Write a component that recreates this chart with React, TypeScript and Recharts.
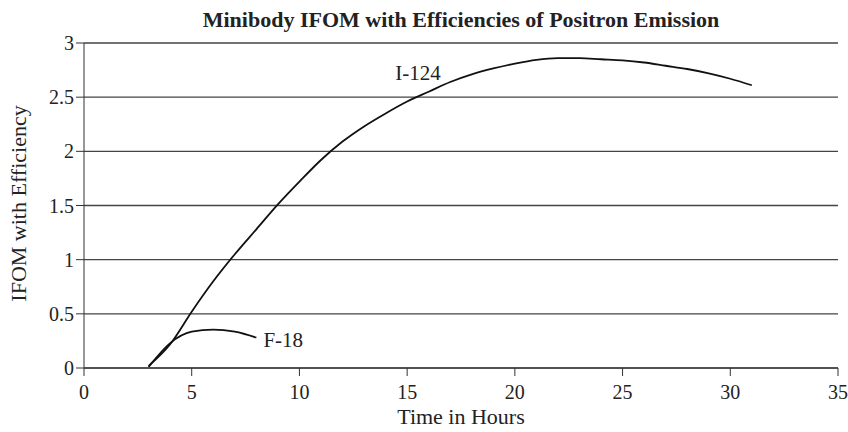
import { LineChart, Line, XAxis, YAxis, CartesianGrid, ReferenceDot, Label } from "recharts";

const hoursI124 = [3, 4, 5, 6, 7, 8, 9, 10, 11, 12, 13, 14, 15, 16, 17, 18, 19, 20, 21, 22, 23, 24, 25, 26, 27, 28, 29, 30, 31];
const valuesI124 = [0.02, 0.22, 0.52, 0.8, 1.05, 1.28, 1.51, 1.72, 1.92, 2.09, 2.23, 2.35, 2.46, 2.55, 2.64, 2.71, 2.765, 2.81, 2.845, 2.86, 2.86, 2.85, 2.84, 2.82, 2.79, 2.76, 2.72, 2.67, 2.61];

const hoursF18 = [3, 4, 5, 6, 7, 8];
const valuesF18 = [0.01, 0.23, 0.335, 0.355, 0.335, 0.28];

const xTicks = [0, 5, 10, 15, 20, 25, 30, 35];
const yTicks = [0, 0.5, 1, 1.5, 2, 2.5, 3];

const seriesNames = ["I-124", "F-18"];
const labelSpots = [
  { x: 15.5, y: 2.73 },
  { x: 9.25, y: 0.26 },
];

const FONT = "'Liberation Serif', 'Times New Roman', serif";
const INK = "#222";

const i124 = hoursI124.map((h, i) => ({ hour: h, value: valuesI124[i] }));
const f18 = hoursF18.map((h, i) => ({ hour: h, value: valuesF18[i] }));

export default function App() {
  const tickStyle = { fontFamily: FONT, fontSize: 20, fill: INK };
  return (
    <div style={{ position: "absolute", left: 0, top: 0, width: 848, height: 432, background: "#fff" }}>
      <div
        style={{
          position: "absolute",
          top: 7,
          left: 84,
          width: 754,
          textAlign: "center",
          fontFamily: FONT,
          fontWeight: "bold",
          fontSize: 22,
          color: INK,
        }}
      >
        Minibody IFOM with Efficiencies of Positron Emission
      </div>
      <LineChart width={848} height={432} margin={{ top: 43, right: 10, bottom: 0, left: 0 }}>
        <CartesianGrid vertical={false} stroke="#444" strokeWidth={1.3} />
        <XAxis
          dataKey="hour"
          type="number"
          domain={[0, 35]}
          ticks={xTicks}
          height={64}
          stroke="#333"
          tickSize={8}
          tick={tickStyle}
          tickMargin={9}
          allowDuplicatedCategory={false}
        >
          <Label value="Time in Hours" position="insideBottom" offset={8} style={{ fontFamily: FONT, fontSize: 22, fill: INK }} />
        </XAxis>
        <YAxis
          type="number"
          domain={[0, 3]}
          ticks={yTicks}
          width={84}
          stroke="#333"
          tickSize={8}
          tick={tickStyle}
          tickMargin={2}
        >
          <Label
            value="IFOM with Efficiency"
            angle={-90}
            position="insideLeft"
            offset={18}
            dy={-2}
            style={{ textAnchor: "middle", fontFamily: FONT, fontSize: 22, fill: INK }}
          />
        </YAxis>
        <Line data={i124} dataKey="value" type="monotone" stroke="#111" strokeWidth={1.8} dot={false} isAnimationActive={false} />
        <Line data={f18} dataKey="value" type="monotone" stroke="#111" strokeWidth={1.8} dot={false} isAnimationActive={false} />
        {labelSpots.map((s, i) => (
          <ReferenceDot key={i} x={s.x} y={s.y} r={0} stroke="none" fill="none">
            <Label value={seriesNames[i]} position="center" style={{ fontFamily: FONT, fontSize: 21, fill: INK }} />
          </ReferenceDot>
        ))}
      </LineChart>
    </div>
  );
}
